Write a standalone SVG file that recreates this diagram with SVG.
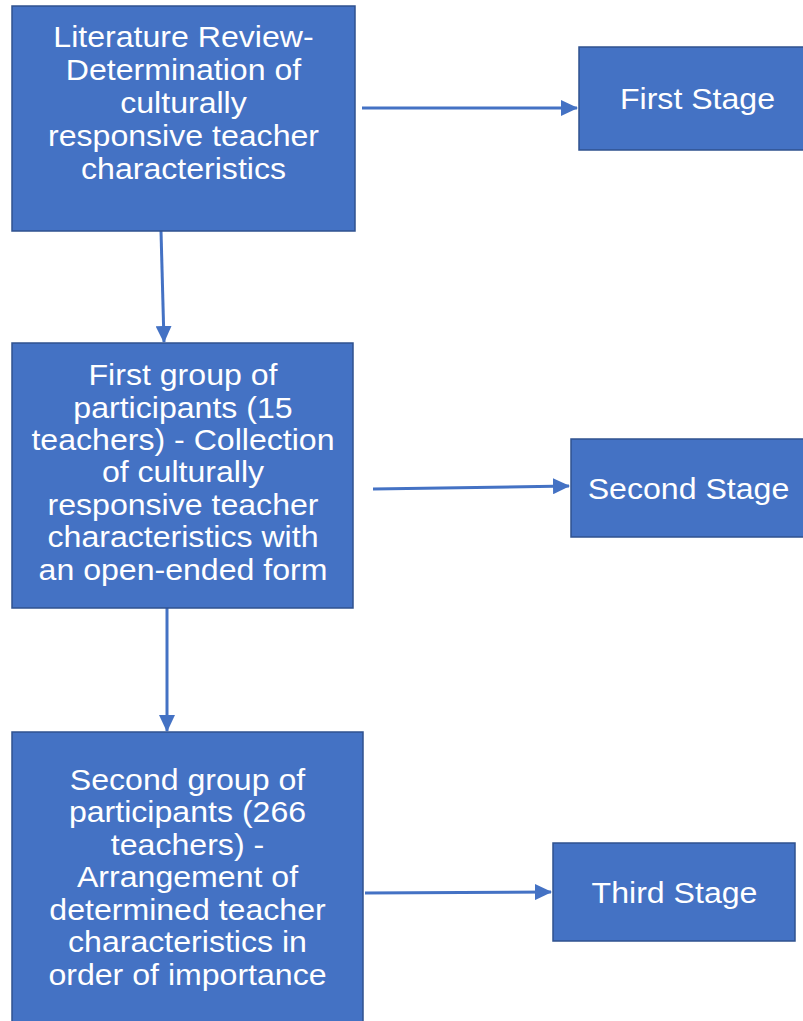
<svg xmlns="http://www.w3.org/2000/svg" width="803" height="1021" viewBox="0 0 803 1021">
<style>
.box{fill:#4472C4;stroke:#2F528F;stroke-width:1.5}
.t{font-family:"Liberation Sans",Arial,sans-serif;font-size:30px;fill:#ffffff;text-anchor:middle}
.c{stroke:#4472C4;stroke-width:3;fill:none}
</style>
<defs>
<marker id="ah" markerUnits="userSpaceOnUse" markerWidth="18" markerHeight="16" refX="16" refY="8" orient="auto">
<path d="M0,0 L17,8 L0,16 Z" fill="#4472C4"/>
</marker>
</defs>
<rect width="803" height="1021" fill="#ffffff"/>
<g id="connectors">
<line class="c" x1="362" y1="108" x2="577" y2="108" marker-end="url(#ah)"/>
<line class="c" x1="373" y1="489" x2="569" y2="486" marker-end="url(#ah)"/>
<line class="c" x1="365" y1="893" x2="551" y2="892" marker-end="url(#ah)"/>
<line class="c" x1="161" y1="231" x2="164" y2="342" marker-end="url(#ah)"/>
<line class="c" x1="167" y1="608" x2="167" y2="731" marker-end="url(#ah)"/>
</g>
<g id="node-literature">
<rect class="box" x="12" y="6" width="343" height="225"/>
<g transform="translate(183.5 0) scale(1.07 1)">
<text class="t" x="0" y="47">Literature Review-</text>
<text class="t" x="0" y="80">Determination of</text>
<text class="t" x="0" y="113">culturally</text>
<text class="t" x="0" y="146">responsive teacher</text>
<text class="t" x="0" y="179">characteristics</text>
</g>
</g>
<g id="node-first-stage">
<rect class="box" x="579" y="47" width="240" height="103"/>
<g transform="translate(697.5 0) scale(1.07 1)"><text class="t" x="0" y="109">First Stage</text></g>
</g>
<g id="node-first-group">
<rect class="box" x="12" y="343" width="341" height="265"/>
<g transform="translate(183 0) scale(1.07 1)">
<text class="t" x="0" y="385">First group of</text>
<text class="t" x="0" y="418">participants (15</text>
<text class="t" x="0" y="450">teachers) - Collection</text>
<text class="t" x="0" y="482">of culturally</text>
<text class="t" x="0" y="515">responsive teacher</text>
<text class="t" x="0" y="547">characteristics with</text>
<text class="t" x="0" y="580">an open-ended form</text>
</g>
</g>
<g id="node-second-stage">
<rect class="box" x="571" y="439" width="240" height="98"/>
<g transform="translate(688.5 0) scale(1.07 1)"><text class="t" x="0" y="499">Second Stage</text></g>
</g>
<g id="node-second-group">
<rect class="box" x="12" y="732" width="351" height="300"/>
<g transform="translate(187.5 0) scale(1.07 1)">
<text class="t" x="0" y="790">Second group of</text>
<text class="t" x="0" y="822">participants (266</text>
<text class="t" x="0" y="855">teachers) -</text>
<text class="t" x="0" y="887">Arrangement of</text>
<text class="t" x="0" y="920">determined teacher</text>
<text class="t" x="0" y="952">characteristics in</text>
<text class="t" x="0" y="985">order of importance</text>
</g>
</g>
<g id="node-third-stage">
<rect class="box" x="553" y="843" width="242" height="98"/>
<g transform="translate(674.5 0) scale(1.07 1)"><text class="t" x="0" y="903">Third Stage</text></g>
</g>
</svg>
